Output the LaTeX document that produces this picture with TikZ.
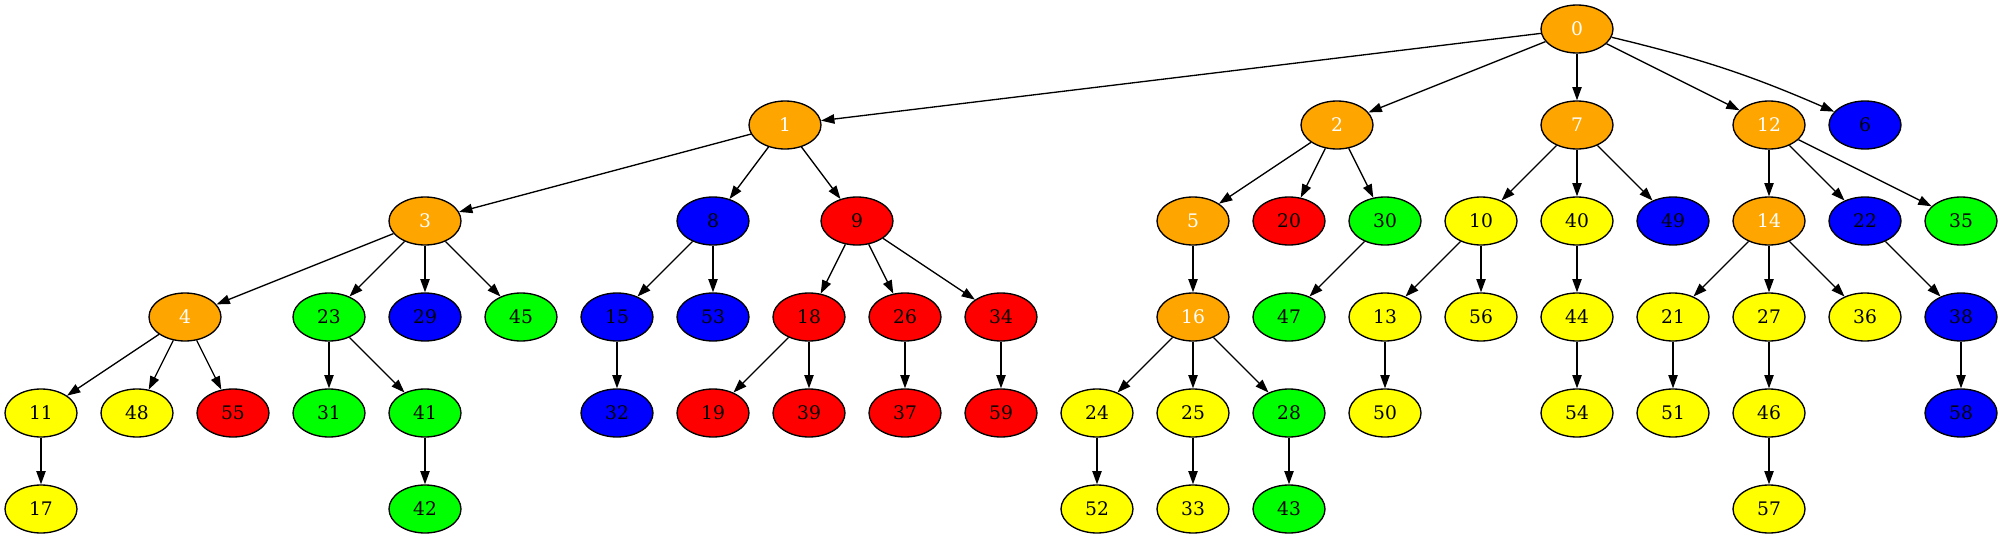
\documentclass[tikz,border=0pt]{standalone}
\usepackage{fontspec}
\setmainfont{DejaVu Serif}
\usetikzlibrary{arrows.meta,shapes.geometric}
\definecolor{gvorange}{HTML}{FFA500}
\definecolor{gvblue}{HTML}{0000FF}
\definecolor{gvred}{HTML}{FF0000}
\definecolor{gvgreen}{HTML}{00FF00}
\definecolor{gvyellow}{HTML}{FFFF00}
\tikzset{
  gv/.style={ellipse, draw=black, line width=1pt, minimum width=54pt, minimum height=36pt, inner sep=0pt, font=\fontsize{14pt}{16pt}\selectfont},
  og/.style={gv, fill=gvorange, text=white},
  bl/.style={gv, fill=gvblue, text=black},
  rd/.style={gv, fill=gvred, text=black},
  gr/.style={gv, fill=gvgreen, text=black},
  yl/.style={gv, fill=gvyellow, text=black},
  edge/.style={draw=black, line width=1pt, -{Triangle[length=10pt,width=7pt]}}
}
\begin{document}
\begin{tikzpicture}[x=0.75pt, y=-0.75pt]
\useasboundingbox (0,0) rectangle (2003,539);
% level 0
\node[og] (n0) at (1577,29) {0};
% level 1
\node[og] (n1) at (785,125) {1};
\node[og] (n2) at (1337,125) {2};
\node[og] (n7) at (1577,125) {7};
\node[og] (n12) at (1769,125) {12};
\node[bl] (n6) at (1865,125) {6};
% level 2
\node[og] (n3) at (425,221) {3};
\node[bl] (n8) at (713,221) {8};
\node[rd] (n9) at (857,221) {9};
\node[og] (n5) at (1193,221) {5};
\node[rd] (n20) at (1289,221) {20};
\node[gr] (n30) at (1385,221) {30};
\node[yl] (n10) at (1481,221) {10};
\node[yl] (n40) at (1577,221) {40};
\node[bl] (n49) at (1673,221) {49};
\node[og] (n14) at (1769,221) {14};
\node[bl] (n22) at (1865,221) {22};
\node[gr] (n35) at (1961,221) {35};
% level 3
\node[og] (n4) at (185,317) {4};
\node[gr] (n23) at (329,317) {23};
\node[bl] (n29) at (425,317) {29};
\node[gr] (n45) at (521,317) {45};
\node[bl] (n15) at (617,317) {15};
\node[bl] (n53) at (713,317) {53};
\node[rd] (n18) at (809,317) {18};
\node[rd] (n26) at (905,317) {26};
\node[rd] (n34) at (1001,317) {34};
\node[og] (n16) at (1193,317) {16};
\node[gr] (n47) at (1289,317) {47};
\node[yl] (n13) at (1385,317) {13};
\node[yl] (n56) at (1481,317) {56};
\node[yl] (n44) at (1577,317) {44};
\node[yl] (n21) at (1673,317) {21};
\node[yl] (n27) at (1769,317) {27};
\node[yl] (n36) at (1865,317) {36};
\node[bl] (n38) at (1961,317) {38};
% level 4
\node[yl] (n11) at (41,413) {11};
\node[yl] (n48) at (137,413) {48};
\node[rd] (n55) at (233,413) {55};
\node[gr] (n31) at (329,413) {31};
\node[gr] (n41) at (425,413) {41};
\node[bl] (n32) at (617,413) {32};
\node[rd] (n19) at (713,413) {19};
\node[rd] (n39) at (809,413) {39};
\node[rd] (n37) at (905,413) {37};
\node[rd] (n59) at (1001,413) {59};
\node[yl] (n24) at (1097,413) {24};
\node[yl] (n25) at (1193,413) {25};
\node[gr] (n28) at (1289,413) {28};
\node[yl] (n50) at (1385,413) {50};
\node[yl] (n54) at (1577,413) {54};
\node[yl] (n51) at (1673,413) {51};
\node[yl] (n46) at (1769,413) {46};
\node[bl] (n58) at (1961,413) {58};
% level 5
\node[yl] (n17) at (41,509) {17};
\node[gr] (n42) at (425,509) {42};
\node[yl] (n52) at (1097,509) {52};
\node[yl] (n33) at (1193,509) {33};
\node[gr] (n43) at (1289,509) {43};
\node[yl] (n57) at (1769,509) {57};
% edges
\foreach \a/\b in {0/1,0/2,0/7,0/12,
  1/3,1/8,1/9, 2/5,2/20,2/30, 7/10,7/40,7/49, 12/14,12/22,12/35,
  3/4,3/23,3/29,3/45, 8/15,8/53, 9/18,9/26,9/34, 5/16, 30/47,
  10/13,10/56, 40/44, 14/21,14/27,14/36, 22/38,
  4/11,4/48,4/55, 23/31,23/41, 15/32, 18/19,18/39, 26/37, 34/59,
  16/24,16/25,16/28, 13/50, 44/54, 21/51, 27/46, 38/58,
  11/17, 41/42, 24/52, 25/33, 28/43, 46/57}
  {\draw[edge] (n\a) -- (n\b);}
\draw[edge] (n0) to[bend left=5] (n6);
\end{tikzpicture}
\end{document}
